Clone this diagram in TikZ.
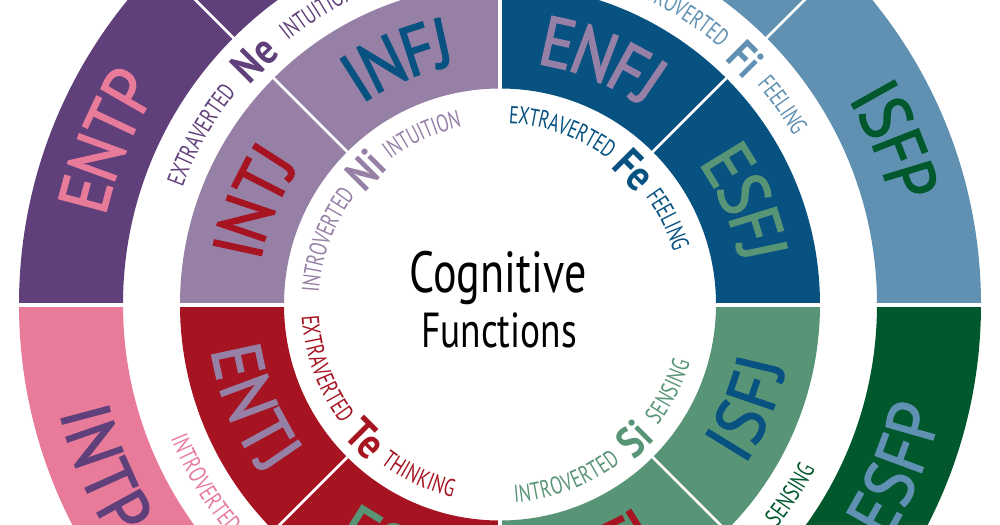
\documentclass[tikz,border=0pt]{standalone}
\usepackage{fontspec}
\setmainfont[FakeStretch=0.85]{PT Sans}
\newfontfamily\titlefont[FakeStretch=0.76]{PT Sans}
\newfontfamily\gapfam[FakeStretch=0.72]{PT Sans}
\newfontfamily\typefam[FakeStretch=0.9, FakeBold=2]{PT Sans}
\usetikzlibrary{decorations.text}

\definecolor{necol}{HTML}{60407A}
\definecolor{nicol}{HTML}{9680A6}
\definecolor{fecol}{HTML}{085282}
\definecolor{ficol}{HTML}{6091B2}
\definecolor{sicol}{HTML}{589476}
\definecolor{secol}{HTML}{00582C}
\definecolor{tecol}{HTML}{A61422}
\definecolor{ticol}{HTML}{E87A9A}

\newcommand\gapfont{\gapfam\fontsize{14}{16}\selectfont}
\newcommand\funfont{\bfseries\fontsize{25}{28}\selectfont}
\newcommand\typefont{\typefam\fontsize{40}{42}\selectfont}

\tikzset{
	abbr/.style={font=\funfont, inner sep=0pt, anchor=center},
	sep/.style={white, line width=0.8mm},
	thinsep/.style={white, line width=0.52mm},
	title/.style={font=\titlefont\fontsize{#1}{#1}\selectfont, inner sep=0pt, anchor=base}
}

\begin{document}
\begin{tikzpicture}[x=0.2mm, y=0.2mm]

			\useasboundingbox (-500,-219.5) rectangle (500,304.5);
			\clip (-500,-219.5) rectangle (500,304.5);

			% Draw the quadrants of both rings
			\foreach \ang/\inn/\out in {90/nicol/necol, 0/fecol/ficol, -90/sicol/secol, 180/tecol/ticol} {
				\fill[\inn] (\ang:216) arc[start angle=\ang, end angle=\ang+90, radius=216]
					-- ({\ang+90}:320) arc[start angle=\ang+90, end angle=\ang, radius=320] -- cycle;
				\fill[\out] (\ang:377) arc[start angle=\ang, end angle=\ang+90, radius=377]
					-- ({\ang+90}:481) arc[start angle=\ang+90, end angle=\ang, radius=481] -- cycle;
			}

			% Draw the white separators
			\foreach \ang in {0,90,180,270} \draw[sep] (\ang:200) -- (\ang:495);
			\foreach \ang in {45,135,225,315} \draw[thinsep] (\ang:200) -- (\ang:495);

			% Type names along the rings
			\foreach \ang/\rad/\word/\col [evaluate=\ang as \s using {(\ang>0)*2-1}] in {
					112.5/268/INFJ/fecol, 157.5/268/INTJ/tecol, 67.5/268/ENFJ/nicol, 22.5/268/ESFJ/sicol,
					-22.5/268/ISFJ/fecol, -67.5/268/ISTJ/tecol, -112.5/268/ESTJ/sicol, -157.5/268/ENTJ/nicol,
					112.5/429/ENFP/ficol, 157.5/429/ENTP/ticol, 67.5/429/INFP/necol, 22.5/429/ISFP/secol,
					-22.5/429/ESFP/ficol, -67.5/429/ESTP/ticol, -112.5/429/ISTP/secol, -157.5/429/INTP/necol} {
					\path[decorate, decoration={text along path, text/.expanded={|\noexpand\typefont|\word},
								text align=center, text color=\col, raise=-4.9mm}]
						({\ang+22.5*\s}:\rad) arc[start angle={\ang+22.5*\s}, end angle={\ang-22.5*\s}, radius=\rad];
				}

			% Function labels between and inside the rings
			\foreach \ang/\rad/\del/\pre/\ab/\post/\col [evaluate=\ang as \s using {(\ang>0)*2-1}] in {
					135/347/6.2/EXTRAVERTED/Ne/INTUITION/necol, 45/347/4.4/INTROVERTED/Fi/FEELING/ficol,
					-45/347/6.2/EXTRAVERTED/Se/SENSING/secol, -135/347/4.6/INTROVERTED/Ti/THINKING/ticol,
					135/190/7.9/INTROVERTED/Ni/INTUITION/nicol, 45/190/8.4/EXTRAVERTED/Fe/FEELING/fecol,
					-45/190/7.5/INTROVERTED/Si/SENSING/sicol, -135/190/7.9/EXTRAVERTED/Te/THINKING/tecol} {
					\node[abbr, text=\col, rotate=\ang-90*\s] (\ab) at (\ang:\rad) {\ab};
					\path[decorate, decoration={text along path, text/.expanded={|\noexpand\gapfont|\pre},
								text align=right, text color=\col, raise=-1.72mm}]
						({\ang+60*\s}:\rad) arc[start angle={\ang+60*\s}, end angle={\ang+\del*\s}, radius=\rad];
					\path[decorate, decoration={text along path, text/.expanded={|\noexpand\gapfont|\post},
								text align=left, text color=\col, raise=-1.72mm}]
						({\ang-\del*\s}:\rad) arc[start angle={\ang-\del*\s}, end angle={\ang-60*\s}, radius=\rad];
				}

			% Title in the middle
			\node[title=33] (cog) at (-2,12) {Cognitive};
			\node[title=28] (fun) at (-1,-43) {Functions};

		\end{tikzpicture}
\end{document}
